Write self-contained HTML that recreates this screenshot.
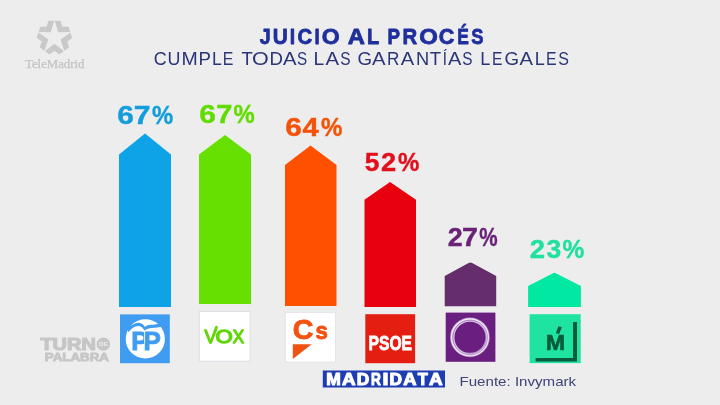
<!DOCTYPE html>
<html lang="es">
<head>
<meta charset="utf-8">
<title>Juicio al Procés</title>
<style>
html,body{margin:0;padding:0;background:#ededed;overflow:hidden}
body{width:720px;height:405px;position:relative;font-family:"Liberation Sans",sans-serif}
svg{display:block;position:absolute;left:0;top:0}
text{font-family:"Liberation Sans",sans-serif}
.b{font-weight:bold}
.pct{font-weight:bold;font-size:25.6px}
</style>
</head>
<body>
<svg width="720" height="405" viewBox="0 0 720 405">
<rect width="720" height="405" fill="#ededed"/>

<!-- title -->
<text class="b" y="44.4" font-size="22" fill="#1f2f9c" stroke="#1f2f9c" stroke-width="0.8" stroke-linejoin="round"><tspan x="259.85" textLength="10.94" lengthAdjust="spacingAndGlyphs">J</tspan><tspan x="272.80" textLength="15.02" lengthAdjust="spacingAndGlyphs">U</tspan><tspan x="289.65" textLength="5.40" lengthAdjust="spacingAndGlyphs">I</tspan><tspan x="297.62" textLength="14.69" lengthAdjust="spacingAndGlyphs">C</tspan><tspan x="314.50" textLength="5.21" lengthAdjust="spacingAndGlyphs">I</tspan><tspan x="321.71" textLength="17.91" lengthAdjust="spacingAndGlyphs">O</tspan> <tspan x="347.86" textLength="17.12" lengthAdjust="spacingAndGlyphs">A</tspan><tspan x="366.95" textLength="11.84" lengthAdjust="spacingAndGlyphs">L</tspan> <tspan x="387.60" textLength="12.49" lengthAdjust="spacingAndGlyphs">P</tspan><tspan x="402.49" textLength="14.68" lengthAdjust="spacingAndGlyphs">R</tspan><tspan x="419.37" textLength="18.58" lengthAdjust="spacingAndGlyphs">O</tspan><tspan x="438.67" textLength="15.57" lengthAdjust="spacingAndGlyphs">C</tspan><tspan x="457.29" textLength="11.59" lengthAdjust="spacingAndGlyphs">É</tspan><tspan x="471.27" textLength="12.19" lengthAdjust="spacingAndGlyphs">S</tspan></text>
<text y="64.6" font-size="18" fill="#2a3478"><tspan x="153.84" textLength="12.94" lengthAdjust="spacingAndGlyphs">C</tspan><tspan x="167.52" textLength="12.91" lengthAdjust="spacingAndGlyphs">U</tspan><tspan x="181.45" textLength="16.25" lengthAdjust="spacingAndGlyphs">M</tspan><tspan x="198.42" textLength="12.41" lengthAdjust="spacingAndGlyphs">P</tspan><tspan x="211.91" textLength="9.78" lengthAdjust="spacingAndGlyphs">L</tspan><tspan x="222.85" textLength="10.58" lengthAdjust="spacingAndGlyphs">E</tspan> <tspan x="241.43" textLength="11.34" lengthAdjust="spacingAndGlyphs">T</tspan><tspan x="252.03" textLength="16.75" lengthAdjust="spacingAndGlyphs">O</tspan><tspan x="269.43" textLength="13.41" lengthAdjust="spacingAndGlyphs">D</tspan><tspan x="283.01" textLength="13.58" lengthAdjust="spacingAndGlyphs">A</tspan><tspan x="296.96" textLength="10.20" lengthAdjust="spacingAndGlyphs">S</tspan> <tspan x="313.58" textLength="10.66" lengthAdjust="spacingAndGlyphs">L</tspan><tspan x="325.51" textLength="13.58" lengthAdjust="spacingAndGlyphs">A</tspan><tspan x="340.25" textLength="10.31" lengthAdjust="spacingAndGlyphs">S</tspan> <tspan x="357.46" textLength="14.54" lengthAdjust="spacingAndGlyphs">G</tspan><tspan x="372.11" textLength="13.53" lengthAdjust="spacingAndGlyphs">A</tspan><tspan x="387.00" textLength="12.35" lengthAdjust="spacingAndGlyphs">R</tspan><tspan x="400.71" textLength="13.43" lengthAdjust="spacingAndGlyphs">A</tspan><tspan x="415.95" textLength="13.19" lengthAdjust="spacingAndGlyphs">N</tspan><tspan x="429.83" textLength="11.34" lengthAdjust="spacingAndGlyphs">T</tspan><tspan x="442.76" textLength="4.17" lengthAdjust="spacingAndGlyphs">Í</tspan><tspan x="448.01" textLength="13.38" lengthAdjust="spacingAndGlyphs">A</tspan><tspan x="462.20" textLength="10.25" lengthAdjust="spacingAndGlyphs">S</tspan> <tspan x="480.16" textLength="10.09" lengthAdjust="spacingAndGlyphs">L</tspan><tspan x="492.06" textLength="10.46" lengthAdjust="spacingAndGlyphs">E</tspan><tspan x="504.41" textLength="14.54" lengthAdjust="spacingAndGlyphs">G</tspan><tspan x="519.41" textLength="13.48" lengthAdjust="spacingAndGlyphs">A</tspan><tspan x="534.67" textLength="10.03" lengthAdjust="spacingAndGlyphs">L</tspan><tspan x="546.05" textLength="10.58" lengthAdjust="spacingAndGlyphs">E</tspan><tspan x="558.17" textLength="10.72" lengthAdjust="spacingAndGlyphs">S</tspan></text>

<!-- bars -->
<polygon points="119,307 119,154.5 145,133.5 171,154.5 171,307" fill="#0ea2e6"/>
<polygon points="199,304 199,154.5 225,135 251,154.5 251,304" fill="#66e000"/>
<polygon points="285,306 285,165 310.5,145.5 336.5,165 336.5,306" fill="#ff5000"/>
<polygon points="364.5,307 364.5,199.7 390,182 416,199.7 416,307" fill="#e8000f"/>
<path d="M444.7,306.3V276L468.6,263.1Q470.4,262 472.2,263.1L496.2,276V306.3Z" fill="#662d6c"/>
<path d="M528.1,307V286L552.6,273.4Q554.4,272.3 556.2,273.4L580.9,286V307Z" fill="#00e8a2"/>

<!-- percentages -->
<text class="pct" y="124.0" fill="#129ddc" stroke="#129ddc" stroke-width="0.4"><tspan x="117.16" textLength="16.57" lengthAdjust="spacingAndGlyphs">6</tspan><tspan x="133.76" textLength="16.71" lengthAdjust="spacingAndGlyphs">7</tspan><tspan x="151.96" textLength="21.22" lengthAdjust="spacingAndGlyphs">%</tspan></text>
<text class="pct" y="123.0" fill="#62dc00" stroke="#62dc00" stroke-width="0.4"><tspan x="199.16" textLength="16.57" lengthAdjust="spacingAndGlyphs">6</tspan><tspan x="216.30" textLength="16.12" lengthAdjust="spacingAndGlyphs">7</tspan><tspan x="233.46" textLength="21.22" lengthAdjust="spacingAndGlyphs">%</tspan></text>
<text class="pct" y="135.6" fill="#f55208" stroke="#f55208" stroke-width="0.4"><tspan x="285.16" textLength="16.57" lengthAdjust="spacingAndGlyphs">6</tspan><tspan x="302.61" textLength="16.20" lengthAdjust="spacingAndGlyphs">4</tspan><tspan x="320.95" textLength="21.44" lengthAdjust="spacingAndGlyphs">%</tspan></text>
<text class="pct" y="170.6" fill="#e0101c" stroke="#e0101c" stroke-width="0.4"><tspan x="364.84" textLength="14.65" lengthAdjust="spacingAndGlyphs">5</tspan><tspan x="381.11" textLength="15.14" lengthAdjust="spacingAndGlyphs">2</tspan><tspan x="398.05" textLength="21.33" lengthAdjust="spacingAndGlyphs">%</tspan></text>
<text class="pct" y="246.2" fill="#6a2277" stroke="#6a2277" stroke-width="0.4"><tspan x="447.82" textLength="14.90" lengthAdjust="spacingAndGlyphs">2</tspan><tspan x="461.91" textLength="16.00" lengthAdjust="spacingAndGlyphs">7</tspan><tspan x="479.14" textLength="18.36" lengthAdjust="spacingAndGlyphs">%</tspan></text>
<text class="pct" y="257.7" fill="#1fe0a0" stroke="#1fe0a0" stroke-width="0.4"><tspan x="529.80" textLength="15.25" lengthAdjust="spacingAndGlyphs">2</tspan><tspan x="546.45" textLength="14.66" lengthAdjust="spacingAndGlyphs">3</tspan><tspan x="562.44" textLength="21.76" lengthAdjust="spacingAndGlyphs">%</tspan></text>

<!-- PP logo -->
<rect x="120" y="314.4" width="49.8" height="48.8" fill="#3f9cf0"/>
<circle cx="145.3" cy="338.9" r="19.6" fill="#fff"/>
<path d="M127.4,329 C130.6,325 135,322.7 138.6,322.8 C142,322.9 143.9,325 144.9,327 C146.3,325.5 148.5,324.9 151,324.8 C154.5,324.7 158,324.2 162,322.4 L163.6,325.8 C159,327.8 155,327.7 152,328 C149.4,328.3 146.6,328.8 144.3,330.6 C143.4,328.5 141.6,326.5 138.6,326.1 C135,325.9 132,328.2 128.4,332.2 Z" fill="#3f9cf0"/>
<g class="b" font-size="26" fill="#3f9cf0" stroke="#3f9cf0" stroke-width="0.9">
<text y="350"><tspan x="131.2">P</tspan><tspan x="143.4">P</tspan></text>
</g>
<line x1="144.6" y1="331" x2="144.6" y2="343.6" stroke="#fff" stroke-width="0.9"/>

<!-- VOX logo -->
<rect x="199.3" y="311.4" width="50.7" height="49.8" fill="#fff" stroke="#dcdce6" stroke-width="1"/>
<g font-size="19" fill="#63d60a" stroke="#63d60a" stroke-width="1.3" stroke-linejoin="round">
<text y="343"><tspan x="204.6" textLength="12" lengthAdjust="spacingAndGlyphs">V</tspan><tspan x="215.6" textLength="17.2" lengthAdjust="spacingAndGlyphs">O</tspan><tspan x="232.8" textLength="11.4" lengthAdjust="spacingAndGlyphs">X</tspan></text>
</g>
<line x1="215.1" y1="330.6" x2="216.5" y2="327.2" stroke="#63d60a" stroke-width="2.8" stroke-linecap="round"/>

<!-- Cs logo -->
<rect x="285.2" y="312.4" width="50.3" height="49.7" fill="#fff" stroke="#e4e4ea" stroke-width="1"/>
<text class="b" y="339.2" font-size="27.5" fill="#f2520f" stroke="#f2520f" stroke-width="0.9"><tspan x="292.73" textLength="20.66" lengthAdjust="spacingAndGlyphs">C</tspan><tspan font-size="24.2" x="315.62" textLength="12.34" lengthAdjust="spacingAndGlyphs">s</tspan></text>
<polygon points="292.8,344.3 311.7,344.3 292.8,358.9" fill="#f2520f"/>

<!-- PSOE logo -->
<rect x="365.3" y="314.2" width="49.8" height="49" fill="#e41f12"/>
<text class="b" x="368.6" y="350.2" font-size="20" fill="#fff" stroke="#fff" stroke-width="0.8" textLength="43.4" lengthAdjust="spacingAndGlyphs">PSOE</text>

<!-- Podemos logo -->
<rect x="445.7" y="312.6" width="49.7" height="49.2" fill="#6a1f80"/>
<g fill="none">
<circle cx="469.9" cy="337.3" r="17.7" stroke="#b48cc6" stroke-width="4.3"/>
<circle cx="469.9" cy="337.3" r="18.2" stroke="#f3eaf7" stroke-width="1.7"/>
<circle cx="470.3" cy="337.6" r="16.6" stroke="#dcc6e6" stroke-width="1.1"/>
<circle cx="470.1" cy="337.45" r="17.4" stroke="#9460ac" stroke-width="0.5"/>
</g>

<!-- Mas Madrid logo -->
<rect x="529.6" y="314.2" width="51.1" height="48.9" fill="#1fe3a0"/>
<path d="M573 322H577V361.4H535.6V358H573Z" fill="#0a5a3c"/>
<text class="b" x="545.7" y="349.9" font-size="22" fill="#0a5a3c" stroke="#0a5a3c" stroke-width="0.6" textLength="19.4" lengthAdjust="spacingAndGlyphs">M</text>
<polygon points="558.4,326.2 561.9,327.2 559.1,334 555.8,333.2" fill="#0a5a3c"/>

<!-- MADRIDATA -->
<rect x="322.8" y="370.5" width="122.2" height="17" fill="#1f3db2"/>
<text class="b" y="384.5" font-size="17" fill="#fff" stroke="#fff" stroke-width="1.1" stroke-linejoin="round"><tspan x="326.28" textLength="14.53" lengthAdjust="spacingAndGlyphs">M</tspan><tspan x="341.98" textLength="13.56" lengthAdjust="spacingAndGlyphs">A</tspan><tspan x="356.69" textLength="12.48" lengthAdjust="spacingAndGlyphs">D</tspan><tspan x="371.09" textLength="9.84" lengthAdjust="spacingAndGlyphs">R</tspan><tspan x="382.61" textLength="5.98" lengthAdjust="spacingAndGlyphs">I</tspan><tspan x="389.59" textLength="12.48" lengthAdjust="spacingAndGlyphs">D</tspan><tspan x="403.19" textLength="13.24" lengthAdjust="spacingAndGlyphs">A</tspan><tspan x="417.67" textLength="10.06" lengthAdjust="spacingAndGlyphs">T</tspan><tspan x="429.03" textLength="13.62" lengthAdjust="spacingAndGlyphs">A</tspan></text>
<text x="459.5" y="386" font-size="13.6" fill="#3f4478" textLength="116.6" lengthAdjust="spacingAndGlyphs">Fuente: Invymark</text>

<!-- Telemadrid watermark -->
<defs><clipPath id="pent"><polygon points="66.58,20.70 74.08,43.78 54.45,58.04 34.82,43.78 42.32,20.70"/></clipPath></defs>
<g clip-path="url(#pent)">
<polygon points="54.45,19.80 58.21,32.22 71.19,31.96 60.54,39.38 64.80,51.64 54.45,43.80 44.10,51.64 48.36,39.38 37.71,31.96 50.69,32.22" fill="#ededed" stroke="#c9c9c9" stroke-width="11.0" stroke-miterlimit="10"/>
<polygon points="54.45,19.80 58.21,32.22 71.19,31.96 60.54,39.38 64.80,51.64 54.45,43.80 44.10,51.64 48.36,39.38 37.71,31.96 50.69,32.22" fill="#ededed"/>
</g>
<g fill="#c4c4c4" stroke="#c4c4c4" stroke-width="0.25">
<text x="25" y="68.1" font-size="11.6" style="font-family:'Liberation Serif',serif" textLength="59.4" lengthAdjust="spacingAndGlyphs">TeleMadrid</text>
</g>

<!-- Turno de palabra watermark -->
<g fill="#c6c6c6" stroke-linejoin="round">
<text class="b" x="40.4" y="350" font-size="16.4" stroke="#c6c6c6" stroke-width="1.1" textLength="55.4" lengthAdjust="spacingAndGlyphs">TURN</text>
<ellipse cx="103.4" cy="344.2" rx="6.7" ry="6.6"/>
<text class="b" x="99" y="346" font-size="5" fill="#ededed" textLength="9" lengthAdjust="spacingAndGlyphs">DE</text>
<text class="b" x="44.8" y="361" font-size="11.4" stroke="#c6c6c6" stroke-width="0.8" textLength="64.2" lengthAdjust="spacingAndGlyphs">PALABRA</text>
</g>
</svg>
</body>
</html>
